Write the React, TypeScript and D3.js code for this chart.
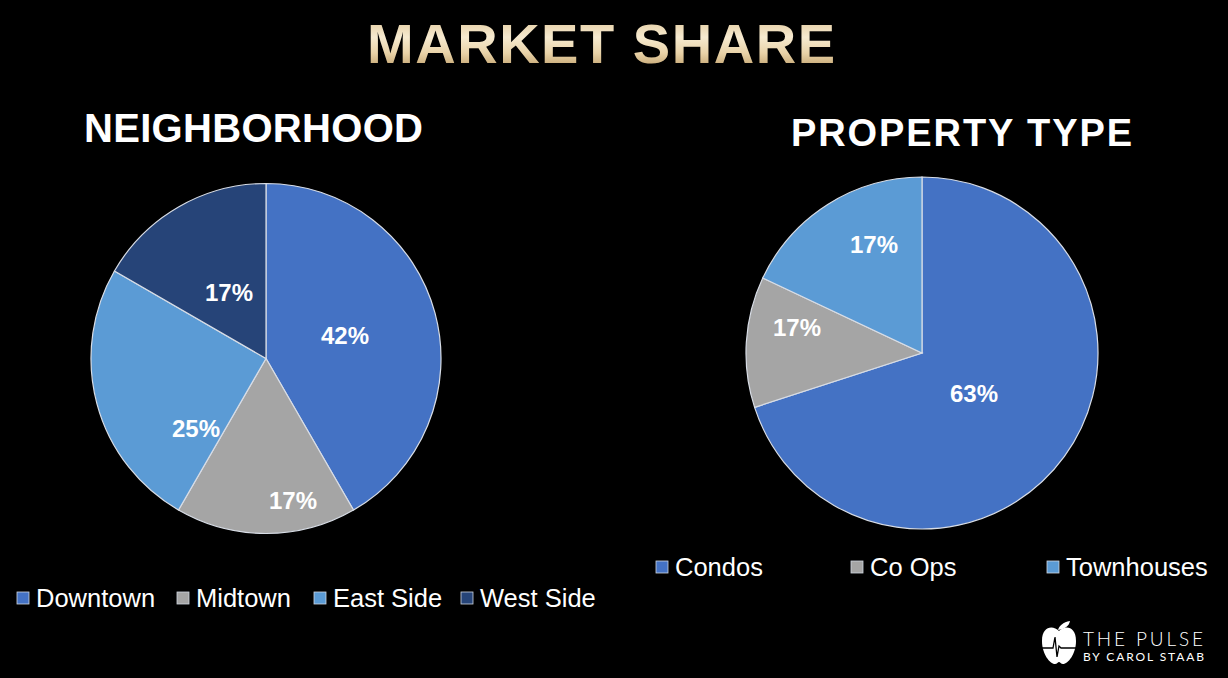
import React, { useEffect, useRef } from "react";
import * as d3 from "d3";

const W = 1228;
const H = 678;

const neighborhoodCategories = ["Downtown", "Midtown", "East Side", "West Side"];
const neighborhoodValues = [5, 2, 3, 2];
const neighborhoodLabels = ["42%", "17%", "25%", "17%"];
const neighborhoodColors = ["#4472C4", "#A5A5A5", "#5B9BD5", "#264478"];

const propertyCategories = ["Condos", "Co Ops", "Townhouses"];
const propertyValues = [70, 12, 18];
const propertyLabels = ["63%", "17%", "17%"];
const propertyColors = ["#4472C4", "#A5A5A5", "#5B9BD5"];

// label offsets from pie centre (layout only)
const neighborhoodLabelOffsets: [number, number][] = [[79, -23], [27, 142], [-70, 70], [-37, -66]];
const propertyLabelOffsets: [number, number][] = [[52, 41], [-125, -25], [-48, -108]];

const FONT = "'Liberation Sans', Arial, Helvetica, sans-serif";

export default function App() {
  const ref = useRef<SVGSVGElement | null>(null);

  useEffect(() => {
    const svg = d3.select(ref.current);
    svg.selectAll("*").remove();

    const defs = svg.append("defs");
    const grad = defs.append("linearGradient").attr("id", "gold").attr("x1", 0).attr("y1", 0).attr("x2", 0).attr("y2", 1);
    grad.append("stop").attr("offset", "0%").attr("stop-color", "#dcc08e");
    grad.append("stop").attr("offset", "40%").attr("stop-color", "#f6ead0");
    grad.append("stop").attr("offset", "65%").attr("stop-color", "#e9d3a8");
    grad.append("stop").attr("offset", "100%").attr("stop-color", "#b08c55");

    svg.append("rect").attr("width", W).attr("height", H).attr("fill", "#000");

    // Title
    svg.append("text")
      .attr("x", 367).attr("y", 63)
      .attr("textLength", 468).attr("lengthAdjust", "spacing")
      .attr("font-family", FONT).attr("font-weight", "bold").attr("font-size", 56)
      .attr("fill", "url(#gold)")
      .text("MARKET SHARE");

    svg.append("text")
      .attr("x", 84).attr("y", 142)
      .attr("textLength", 339).attr("lengthAdjust", "spacing")
      .attr("font-family", FONT).attr("font-weight", "bold").attr("font-size", 40)
      .attr("fill", "#fff")
      .text("NEIGHBORHOOD");

    svg.append("text")
      .attr("x", 791).attr("y", 146)
      .attr("textLength", 341).attr("lengthAdjust", "spacing")
      .attr("font-family", FONT).attr("font-weight", "bold").attr("font-size", 38)
      .attr("fill", "#fff")
      .text("PROPERTY TYPE");

    const drawPie = (
      cx: number, cy: number, r: number,
      values: number[], colors: string[], labels: string[], offsets: [number, number][]
    ) => {
      const g = svg.append("g").attr("transform", `translate(${cx},${cy})`);
      const pie = d3.pie<number>().sort(null).value((d) => d);
      const arc = d3.arc<d3.PieArcDatum<number>>().innerRadius(0).outerRadius(r);
      const arcs = pie(values);
      g.selectAll("path.slice").data(arcs).enter().append("path")
        .attr("class", "slice")
        .attr("d", arc as any)
        .attr("fill", (_d, i) => colors[i])
        .attr("stroke", "#d8dde6").attr("stroke-width", 1.2);
      g.selectAll("text.lbl").data(arcs).enter().append("text")
        .attr("class", "lbl")
        .attr("x", (_d, i) => offsets[i][0])
        .attr("y", (_d, i) => offsets[i][1])
        .attr("dy", "0.35em")
        .attr("text-anchor", "middle")
        .attr("font-family", FONT).attr("font-weight", "bold").attr("font-size", 24)
        .attr("fill", "#fff")
        .text((_d, i) => labels[i]);
    };

    drawPie(266, 358.5, 175, neighborhoodValues, neighborhoodColors, neighborhoodLabels, neighborhoodLabelOffsets);
    drawPie(922, 353, 176, propertyValues, propertyColors, propertyLabels, propertyLabelOffsets);

    // Legends
    const drawLegend = (items: string[], colors: string[], xs: number[], baseline: number) => {
      const g = svg.append("g");
      items.forEach((name, i) => {
        g.append("rect")
          .attr("x", xs[i]).attr("y", baseline - 15)
          .attr("width", 12).attr("height", 12)
          .attr("fill", colors[i]).attr("stroke", "#cfd6e0").attr("stroke-width", 0.8);
        g.append("text")
          .attr("x", xs[i] + 19).attr("y", baseline)
          .attr("font-family", FONT).attr("font-size", 25.5)
          .attr("fill", "#fff")
          .text(name);
      });
    };
    drawLegend(neighborhoodCategories, neighborhoodColors, [17, 177, 314, 461], 607);
    drawLegend(propertyCategories, propertyColors, [656, 851, 1047], 576);

    // Logo
    const logo = svg.append("g");
    logo.append("path")
      .attr("d", "M1059,631 C1053,625 1042,626 1042,641 C1042,654 1050,664 1055,664 C1057,664 1058,662 1059,662 C1060,662 1061,664 1063,664 C1068,664 1076,654 1076,641 C1076,626 1065,625 1059,631 Z")
      .attr("fill", "#fff");
    logo.append("path")
      .attr("d", "M1058,630 C1059,626 1063,622 1070,621 C1069,626 1065,629 1058,630 Z")
      .attr("fill", "#fff");
    logo.append("path")
      .attr("d", "M1042,648 L1053,648 L1055,637 L1057,657 L1059,646 L1061,648 L1076,648")
      .attr("fill", "none").attr("stroke", "#000").attr("stroke-width", 1.3);
    logo.append("text")
      .attr("x", 1083).attr("y", 646)
      .attr("textLength", 120).attr("lengthAdjust", "spacing")
      .attr("font-family", "Lato, 'Open Sans', sans-serif").attr("font-weight", 300).attr("font-size", 19)
      .attr("fill", "#fff")
      .text("THE PULSE");
    logo.append("text")
      .attr("x", 1083).attr("y", 661)
      .attr("textLength", 121).attr("lengthAdjust", "spacing")
      .attr("font-family", "Lato, 'Open Sans', sans-serif").attr("font-weight", 400).attr("font-size", 12)
      .attr("fill", "#fff")
      .text("BY CAROL STAAB");
  }, []);

  return (
    <svg
      ref={ref}
      width={W}
      height={H}
      style={{ position: "absolute", left: 0, top: 0, display: "block" }}
    />
  );
}
